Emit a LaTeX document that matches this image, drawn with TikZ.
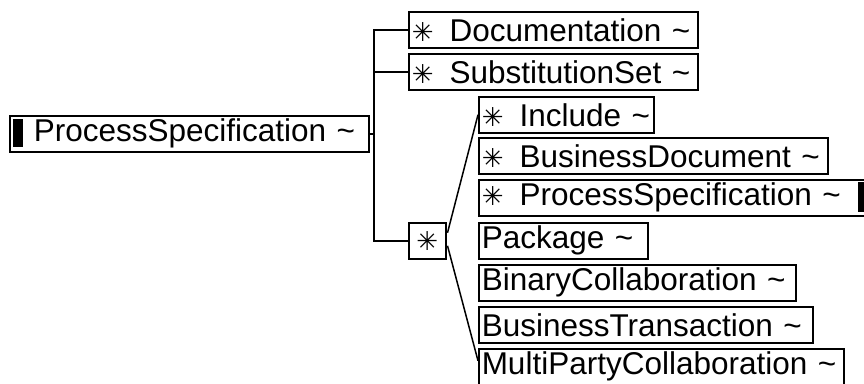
\documentclass[tikz,border=0pt]{standalone}
\usepackage{fontspec}
\setmainfont{Liberation Sans}
\newfontfamily\symfont{DejaVu Sans}
\usetikzlibrary{calc}
\newcommand{\elemfont}{\fontsize{31.5}{34}\selectfont}
\newcommand{\anyof}{{\symfont\fontsize{26}{26}\selectfont ✳}\hspace{16pt}}
\newcommand{\tld}{ \textasciitilde}

\begin{document}
\begin{tikzpicture}[x=1pt, y=-1pt,
	elem/.style={draw, line width=1.5pt, anchor=north west, inner xsep=3pt, inner ysep=0pt,
		minimum height=36pt, align=left, font=\elemfont},
	link/.style={line width=1.5pt}]
			%%%%% START %%%%%
			\useasboundingbox (0,0) rectangle (864,383);
			\clip (0,0) rectangle (864,383);
			
			\node[elem, text width=353pt] (root) at (9,115) {\hspace{21pt}ProcessSpecification\tld};
			\fill (13,119) rectangle (23,147);
			
			\node[elem, text width=283pt] (doc) at (408,11) {\anyof Documentation\tld};
			\node[elem, text width=283pt] (subst) at (408,53) {\anyof SubstitutionSet\tld};
			\node[elem, text width=31pt, align=center] (star) at (408,222) {{\symfont\fontsize{26}{26}\selectfont ✳}};
			
			\node[elem, text width=169pt] (incl) at (478,96) {\anyof Include\tld};
			\node[elem, text width=343pt] (bdoc) at (478,137) {\anyof BusinessDocument\tld};
			\node[elem, text width=400pt] (pspec) at (478,179) {\anyof ProcessSpecification\tld};
			\fill (858,182) rectangle (868,212);
			\node[elem, text width=163pt] (pkg) at (478,222) {Package\tld};
			\node[elem, text width=311pt] (bcol) at (478,264) {BinaryCollaboration\tld};
			\node[elem, text width=328pt] (btra) at (478,306) {BusinessTransaction\tld};
			\node[elem, text width=359pt] (mcol) at (478,348) {MultiPartyCollaboration\tld};
			
			\coordinate (trunk) at (374,0);
			\draw[link] (root.east) -- (root.east -| trunk);
			\draw[link] (doc.west) -- (doc.west -| trunk) -- (star.west -| trunk) -- (star.west);
			\draw[link] (subst.west) -- (subst.west -| trunk);
			
			\draw[link] ($(star.east)+(1,-8)$) -- (incl.west);
			\draw[link] ($(star.east)+(1,5)$) -- ($(mcol.west)+(0,-6)$);
			
			%%%%% END %%%%%
		\end{tikzpicture}
\end{document}
